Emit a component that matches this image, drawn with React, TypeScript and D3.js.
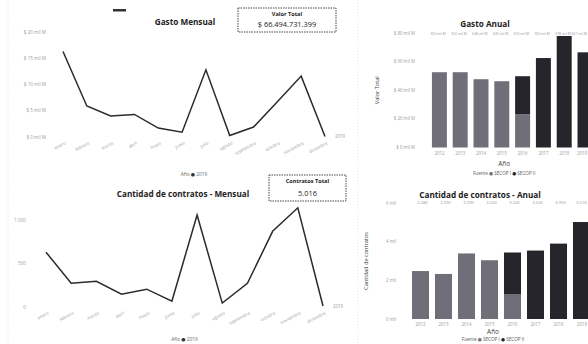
import React from "react";
import * as d3 from "d3";

const MONTHS = ["enero", "febrero", "marzo", "abril", "mayo", "junio", "julio", "agosto", "septiembre", "octubre", "noviembre", "diciembre"];
const GASTO_MENSUAL = [16.3, 5.9, 4.0, 4.3, 1.7, 0.9, 12.8, 0.3, 1.9, 6.7, 11.6, 0.1];
const CONTRATOS_MENSUAL = [630, 273, 295, 148, 205, 68, 1057, 45, 273, 870, 1140, 12];
const GASTO_TICKS = [0, 5, 10, 15, 20];
const CONTRATOS_M_TICKS = [0, 500, 1000];

const YEARS = ["2012", "2013", "2014", "2015", "2016", "2017", "2018", "2019"];
const GASTO_SECOP1 = [52.6, 52.6, 47.7, 46.3, 23.2, 0, 0, 0];
const GASTO_SECOP2 = [0, 0, 0, 0, 26.6, 62.5, 77.9, 66.5];
const CONTRATOS_SECOP1 = [2480, 2330, 3390, 3040, 1270, 0, 0, 0];
const CONTRATOS_SECOP2 = [0, 0, 0, 0, 2170, 3540, 3900, 5016];
const GASTO_A_TICKS = [0, 20, 40, 60, 80];
const CONTRATOS_A_TICKS = [0, 2000, 4000, 6000];

const FONT = "'Open Sans', 'DejaVu Sans', sans-serif";
const TICK_COLOR = "#9a9a9a";
const DARK = "#222";
const C_SECOP1 = "#706e78";
const C_SECOP2 = "#26252b";
const W = 588;

const fmtNum = (v: number) => d3.format(",")(v).replace(/,/g, ".");
const fmtMil = (v: number) => "$" + d3.format(".0f")(v) + " mil M";

function LineChart({ values, ticks, xRange, yRange, tickX, tickFmt, title, titleX, titleY, legendY, endLabelY }: any) {
  const x = d3.scalePoint<string>().domain(MONTHS).range(xRange);
  const y = d3.scaleLinear().domain([ticks[0], ticks[ticks.length - 1]]).range(yRange);
  const line = d3.line<number>().x((_, i) => x(MONTHS[i])!).y((d) => y(d));
  return (
    <g>
      <text x={titleX} y={titleY} fontSize={8.2} fontWeight="bold" fill={DARK} textAnchor="middle" fontFamily={FONT}>{title}</text>
      {ticks.map((t: number) => (
        <text key={t} x={tickX} y={y(t) + 1.5} fontSize={4.6} fill={TICK_COLOR} textAnchor="end" fontFamily={FONT}>{tickFmt(t)}</text>
      ))}
      <path d={line(values)!} fill="none" stroke="#2a2a2a" strokeWidth={1.5} strokeLinejoin="miter" />
      {MONTHS.map((m) => (
        <text key={m} transform={`translate(${x(m)! + 3},${yRange[0] + 7}) rotate(-28)`} fontSize={4.4} fill={TICK_COLOR} textAnchor="end" fontFamily={FONT}>{m}</text>
      ))}
      <text x={xRange[1] + 10} y={endLabelY} fontSize={4.4} fill={TICK_COLOR} fontFamily={FONT}>2019</text>
      <text x={(xRange[0] + xRange[1]) / 2} y={legendY} fontSize={4.8} fill="#666" textAnchor="middle" fontFamily={FONT}>Año  <tspan fill="#333">●</tspan> 2019</text>
    </g>
  );
}

function BarChart({ s1, s2, ticks, xRange, yRange, pIn, tickX, tickFmt, labelFmt, labelY, labelSize, title, titleX, titleY, yTitle, yTitleX, axisTitleY, legendY }: any) {
  const x = d3.scaleBand<string>().domain(YEARS).range(xRange).paddingInner(pIn).paddingOuter(pIn / 2);
  const y = d3.scaleLinear().domain([ticks[0], ticks[ticks.length - 1]]).range(yRange);
  const midY = (yRange[0] + yRange[1]) / 2;
  const last = YEARS[YEARS.length - 1];
  return (
    <g>
      <text x={titleX} y={titleY} fontSize={8.2} fontWeight="bold" fill={DARK} textAnchor="middle" fontFamily={FONT}>{title}</text>
      {ticks.map((t: number) => (
        <text key={t} x={tickX} y={y(t) + 1.5} fontSize={4.4} fill={TICK_COLOR} textAnchor="end" fontFamily={FONT}>{tickFmt(t)}</text>
      ))}
      <text transform={`translate(${yTitleX},${midY}) rotate(-90)`} fontSize={5.6} fill="#444" textAnchor="middle" fontFamily={FONT}>{yTitle}</text>
      {YEARS.map((yr, i) => {
        const a = s1[i];
        const b = s2[i];
        const isLast = yr === last;
        const cx = isLast ? W - 1 : x(yr)! + x.bandwidth() / 2;
        const anchor = isLast ? "end" : "middle";
        const lx = Math.min(x(yr)! + x.bandwidth() - 1, W - 1);
        return (
          <g key={yr}>
            {a > 0 && <rect x={x(yr)} y={y(a)} width={x.bandwidth()} height={y(0) - y(a)} fill={C_SECOP1} />}
            {b > 0 && <rect x={x(yr)} y={y(a + b)} width={x.bandwidth()} height={y(a) - y(a + b)} fill={C_SECOP2} />}
            <text x={lx} y={labelY} fontSize={labelSize} fill={TICK_COLOR} textAnchor="end" fontFamily={FONT}>{labelFmt(a + b)}</text>
            <text x={cx} y={yRange[0] + 7} fontSize={4.4} fill={TICK_COLOR} textAnchor={anchor} fontFamily={FONT}>{yr}</text>
          </g>
        );
      })}
      <text x={(xRange[0] + xRange[1]) / 2 - 8} y={axisTitleY} fontSize={6.4} fill="#444" textAnchor="middle" fontFamily={FONT}>Año</text>
      <text x={(xRange[0] + xRange[1]) / 2 - 8} y={legendY} fontSize={4.6} fill="#555" textAnchor="middle" fontFamily={FONT}>
        Fuente  <tspan fill={C_SECOP1}>●</tspan> SECOP I  <tspan fill={C_SECOP2}>●</tspan> SECOP II
      </text>
    </g>
  );
}

function Card({ x, y, w, h, label, value }: any) {
  return (
    <g>
      <rect x={x} y={y} width={w} height={h} fill="#fff" stroke="#333" strokeWidth={0.9} strokeDasharray="1.5,1" />
      <text x={x + w / 2} y={y + 7.5} fontSize={5.6} fontWeight="bold" fill={DARK} textAnchor="middle" fontFamily={FONT}>{label}</text>
      <text x={x + w / 2} y={y + h - 5} fontSize={7.4} fill={DARK} textAnchor="middle" fontFamily={FONT}>{value}</text>
    </g>
  );
}

export default function App() {
  return (
    <svg width={588} height={344} style={{ position: "absolute", left: 0, top: 0, background: "#fff" }}>
      <rect width={588} height={344} fill="#fff" />
      <line x1={8} y1={0} x2={8} y2={344} stroke="#ddd" strokeWidth={0.8} strokeDasharray="1,2" />
      <line x1={358} y1={0} x2={358} y2={344} stroke="#ddd" strokeWidth={0.8} strokeDasharray="1,2" />
      <rect x={113} y={9} width={13} height={2.5} fill="#333" />

      <LineChart
        values={GASTO_MENSUAL}
        ticks={GASTO_TICKS}
        xRange={[63, 325]}
        yRange={[137, 32]}
        tickX={46}
        tickFmt={(t: number) => `$ ${t} mil M`}
        title="Gasto Mensual"
        titleX={185}
        titleY={25}
        legendY={176}
        endLabelY={138}
      />
      <Card x={238} y={8} w={98} h={24} label="Valor Total" value="$ 66.494.731.399" />

      <LineChart
        values={CONTRATOS_MENSUAL}
        ticks={CONTRATOS_M_TICKS}
        xRange={[46, 323]}
        yRange={[307, 220]}
        tickX={26}
        tickFmt={(t: number) => fmtNum(t)}
        title="Cantidad de contratos - Mensual"
        titleX={183}
        titleY={197}
        legendY={341}
        endLabelY={308}
      />
      <Card x={269} y={175} w={77} h={26} label="Contratos Total" value="5.016" />

      <BarChart
        s1={GASTO_SECOP1}
        s2={GASTO_SECOP2}
        ticks={GASTO_A_TICKS}
        xRange={[429, 595.4]}
        yRange={[147.5, 33]}
        pIn={0.28}
        tickX={415}
        tickFmt={(t: number) => `$ ${t} mil M`}
        labelFmt={fmtMil}
        labelY={35}
        labelSize={3.4}
        title="Gasto Anual"
        titleX={485}
        titleY={27}
        yTitle="Valor Total"
        yTitleX={379}
        axisTitleY={166}
        legendY={175}
      />

      <BarChart
        s1={CONTRATOS_SECOP1}
        s2={CONTRATOS_SECOP2}
        ticks={CONTRATOS_A_TICKS}
        xRange={[409, 593]}
        yRange={[319, 203]}
        pIn={0.26}
        tickX={396}
        tickFmt={(t: number) => (t === 0 ? "0 mil" : `${t / 1000} mil`)}
        labelFmt={(v: number) => fmtNum(v)}
        labelY={204}
        labelSize={4.2}
        title="Cantidad de contratos - Anual"
        titleX={480}
        titleY={198}
        yTitle="Cantidad de contratos"
        yTitleX={368}
        axisTitleY={334}
        legendY={341}
      />
    </svg>
  );
}
